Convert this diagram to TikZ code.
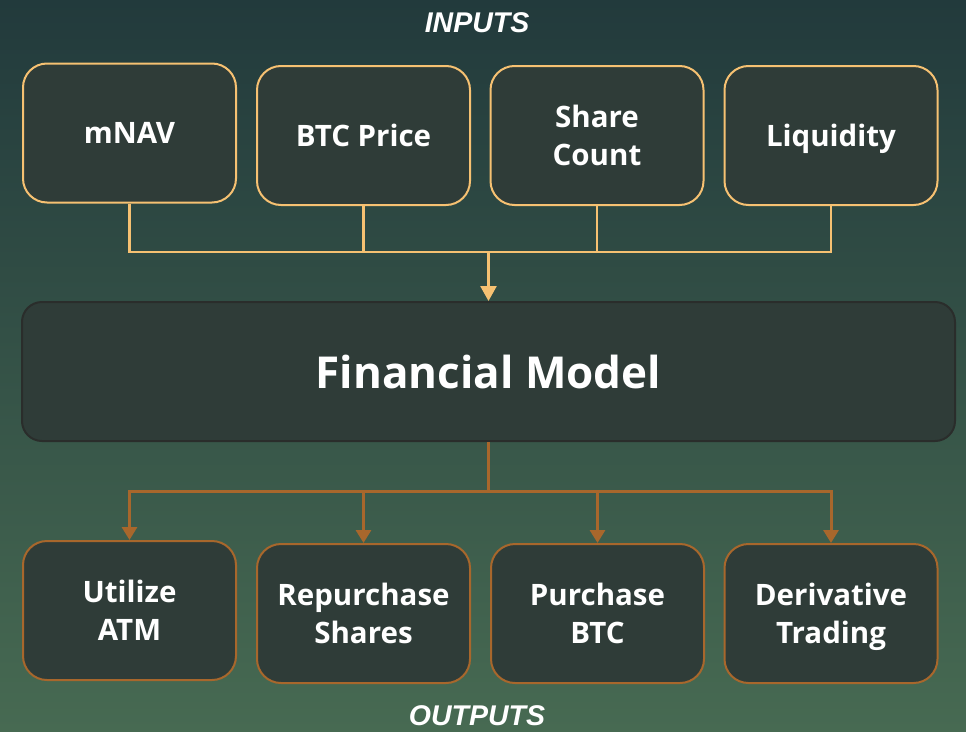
\documentclass[tikz,border=0pt]{standalone}
\usepackage{fontspec}
\usepackage{tikz}
\usetikzlibrary{arrows.meta}
\newfontfamily\boxfont{Open Sans}
\newfontfamily\headfont{Liberation Sans}
\definecolor{bgtop}{HTML}{223A3C}
\definecolor{bgbot}{HTML}{476A52}
\definecolor{boxfill}{HTML}{2F3C38}
\definecolor{inline}{HTML}{F6C172}
\definecolor{outline}{HTML}{A8672C}
\definecolor{modelline}{HTML}{2A2D2B}

\begin{document}
\begin{tikzpicture}[x=1pt,y=-1pt,
    inbox/.style={draw=inline,line width=2pt,fill=boxfill,rounded corners=24pt,
                  minimum width=213pt,minimum height=139pt,align=center,
                  text=white,font=\boxfont\bfseries\fontsize{29.5}{38}\selectfont,
                  text depth=0pt},
    outbox/.style={inbox,draw=outline},
    inwire/.style={draw=inline,line width=2.6pt},
    outwire/.style={draw=outline,line width=3pt},
    headline/.style={text=white,font=\headfont\bfseries\itshape\fontsize{28.5}{30}\selectfont}]

  % background
  \useasboundingbox (0,0) rectangle (966,731);
  \shade[top color=bgtop,bottom color=bgbot] (0,0) rectangle (966,731);

  \node[headline] (intitle)  at (477,23)  {INPUTS};
  \node[headline] (outtitle) at (477,716) {OUTPUTS};

  % inputs
  \node[inbox] (mnav)  at (129.5,133) {mNAV};
  \node[inbox] (price) at (363.5,135.5) {BTC Price};
  \node[inbox] (count) at (597,135.5) {Share\\Count};
  \node[inbox] (liq)   at (831,135.5) {Liquidity};

  % model
  \node[draw=modelline,line width=2pt,fill=boxfill,rounded corners=20pt,
        minimum width=933pt,minimum height=139pt,text=white,
        font=\boxfont\bfseries\fontsize{44}{50}\selectfont] (model) at (488.5,371.5) {Financial Model};

  % outputs
  \node[outbox] (atm)    at (129.5,610.5) {Utilize\\ATM};
  \node[outbox] (rebuy)  at (363.5,613.5) {Repurchase\\Shares};
  \node[outbox] (buybtc) at (597.5,613.5) {Purchase\\BTC};
  \node[outbox] (deriv)  at (831,613.5) {Derivative\\Trading};

  \coordinate (inbus)  at (488.5,252);
  \coordinate (outbus) at (488.5,491);

  \path[inwire] (mnav.south) |- (inbus) (price.south) |- (inbus)
                (count.south) |- (inbus) (liq.south) |- (inbus);
  \draw[inwire,-{Triangle[width=16pt,length=15pt]}] (inbus) -- (model.north);

  \draw[outwire] (model.south) -- (outbus);
  \foreach \n in {atm,rebuy,buybtc,deriv}
    \draw[outwire,-{Triangle[width=15pt,length=13pt]}] (outbus) -| (\n.north);

\end{tikzpicture}
\end{document}
